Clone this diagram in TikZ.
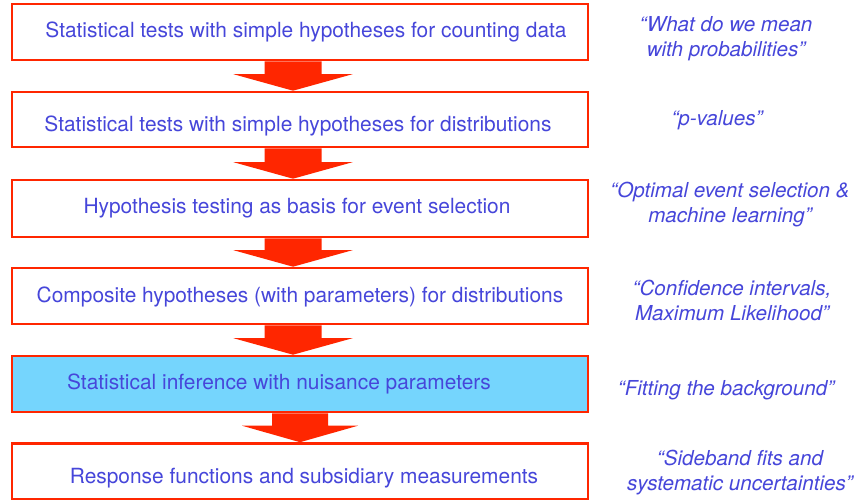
\documentclass[tikz,border=0pt]{standalone}
\usepackage{fontspec}
\setmainfont{TeX Gyre Heros}
\usetikzlibrary{calc}
\definecolor{boxred}{RGB}{255,38,0}
\definecolor{txtblue}{RGB}{70,70,218}
\definecolor{fillblue}{RGB}{117,213,253}
\newcommand{\flowarr}[5]{% from, to, x offset, shaft half width, head half width
  \fill[flow] let \p1=(#1.south), \p2=(#2.north) in
    (\x1+#3-#4,\y1) -- (\x1+#3-#4,\y2+16.5pt) -- (\x1+#3-#5,\y2+16.5pt)
    -- (\x1+#3,\y2) -- (\x1+#3+#5,\y2+16.5pt) -- (\x1+#3+#4,\y2+16.5pt)
    -- (\x1+#3+#4,\y1) -- cycle;}
\begin{document}
\begin{tikzpicture}[x=1pt,y=-1pt,
  box/.style={draw=boxred, line width=2.6pt, minimum width=576pt, inner sep=0pt},
  lbl/.style={text=txtblue, font=\fontsize{20.9}{24}\selectfont, anchor=base, inner sep=0pt},
  note/.style={text=txtblue, font=\fontsize{20.6}{25}\selectfont\itshape, align=center, anchor=base, inner sep=0pt},
  flow/.style={fill=boxred}]
\useasboundingbox[fill=white] (0,0) rectangle (856,499);
% boxes
\node[box, minimum height=56pt] (b1) at (300,32) {};
\node[box, minimum height=55pt] (b2) at (300,119.5) {};
\node[box, minimum height=57pt] (b3) at (300,208.5) {};
\node[box, minimum height=56pt] (b4) at (300,296) {};
\node[box, fill=fillblue, minimum height=56pt] (b5) at (300,384) {};
\node[box, minimum height=56pt] (b6) at (300,471.5) {};
% arrows
\flowarr{b1}{b2}{-7pt}{28.5pt}{59.5pt}
\flowarr{b2}{b3}{-7pt}{28.5pt}{59.5pt}
\flowarr{b3}{b4}{-7pt}{28.5pt}{59.5pt}
\flowarr{b4}{b5}{-7pt}{28.5pt}{59.5pt}
\flowarr{b5}{b6}{0pt}{28pt}{58pt}
% box texts
\node[lbl] (t1) at (306,37) {Statistical tests with simple hypotheses for counting data};
\node[lbl] (t2) at (298,131) {Statistical tests with simple hypotheses for distributions};
\node[lbl] (t3) at (297,213.5) {Hypothesis testing as basis for event selection};
\node[lbl] (t4) at (300,302) {Composite hypotheses (with parameters) for distributions};
\node[lbl] (t5) at (279,389) {Statistical inference with nuisance parameters};
\node[lbl] (t6) at (304,483) {Response functions and subsidiary measurements};
% notes (anchor=base is the baseline of the last line)
\node[note] (n1) at (726,56) {“What do we mean\\with probabilities”};
\node[note] (n2) at (717,125) {“p-values”};
\node[note] (n3) at (730,222) {“Optimal event selection \&\\machine learning”};
\node[note] (n4) at (732,320) {“Confidence intervals,\\Maximum Likelihood”};
\node[note] (n5) at (726,395) {“Fitting the background”};
\node[note] (n6) at (740,490) {“Sideband fits and\\systematic uncertainties”};
\end{tikzpicture}
\end{document}
